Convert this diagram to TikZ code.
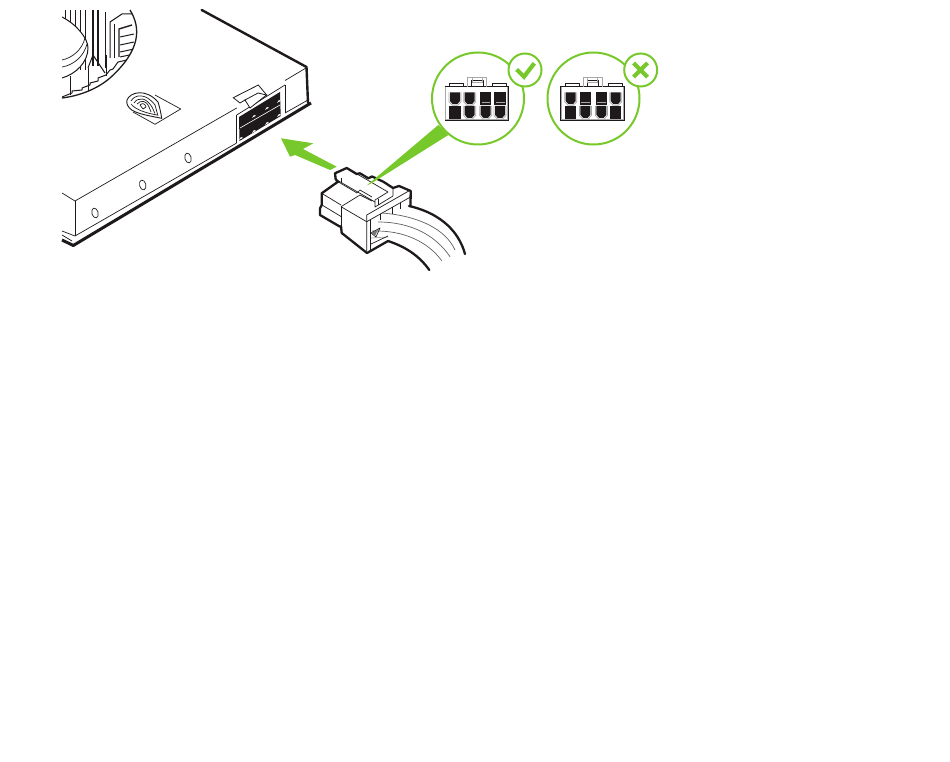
\documentclass[tikz,border=0pt]{standalone}
\usepackage{xcolor}
\usetikzlibrary{shapes.geometric}
\definecolor{nvgreen}{HTML}{77C82A}
\definecolor{pingray}{HTML}{A8A8A8}
\definecolor{ink}{HTML}{1E1A1B}
\tikzset{
  heavy/.style={draw=ink,line width=2.3pt,line join=round,line cap=round},
  medium/.style={draw=ink,line width=1pt,line join=round},
  fine/.style={draw=ink,line width=0.7pt,line join=round},
  cable/.style={draw=ink!70,line width=0.7pt},
  ring/.style={draw=nvgreen,line width=2pt,fill=white}
}
\newcommand{\roundpin}[2]{%
  \draw[pingray,line width=0.7pt] (#1-0.3,#2) -- (#1-0.3,#2+9.5) -- (#1+3,#2+13) -- (#1+8.4,#2+13) -- (#1+11.7,#2+9.5) -- (#1+11.7,#2);
  \fill[ink] (#1+0.7,#2) -- (#1+10.7,#2) -- (#1+10.7,#2+8.8) -- (#1+8,#2+11.8) -- (#1+3.4,#2+11.8) -- (#1+0.7,#2+8.8) -- cycle;}
\newcommand{\barpin}[2]{%
  \fill[ink] (#1,#2) rectangle (#1+11.4,#2+12.6);
  \draw[pingray,line width=0.7pt] (#1+1.5,#2+9.8) -- (#1+10.4,#2+9.8);}
\newcommand{\squarepin}[2]{%
  \fill[ink] (#1,#2+0.3) rectangle (#1+11.4,#2+12.8);}
% housing drawn at the left ring, shifted for the right one
\newcommand{\pinhousing}{%
  \fill[white,draw=ink,line width=0.6pt] (445,86.7) rectangle (508.3,120);
  \draw[pingray,line width=1pt] (445.6,87.3) -- (445.6,119.4) -- (507.7,119.4) -- (507.7,87.3);
  \draw[fine,line width=1pt] (449.3,86.7) -- (449.3,83.3) -- (463.3,83.3) -- (463.3,86.7);
  \draw[fine,line width=1pt] (492.3,86.7) -- (492.3,83.3) -- (506.7,83.3) -- (506.7,86.7);
  \draw[pingray,line width=0.8pt] (467.3,86.7) -- (467.3,77.5) -- (486.7,77.5) -- (486.7,86.7);
  \draw[fine] (471.5,86.7) -- (471.5,80) -- (483,80) -- (483,86.7);
  \draw[pingray,line width=0.8pt] (472,77.5) -- (472,82.5) -- (482,82.5) -- (482,77.5);
}
\begin{document}
\begin{tikzpicture}[x=1pt,y=-1pt]
  \useasboundingbox (0,0) rectangle (950,762);
  % fan opening
  \begin{scope}
    \clip (62,10) -- (130,10) .. controls (141,28) and (141,50) .. (110,78) .. controls (96,90) and (78,96) .. (62,98) -- cycle;
    \foreach \finx in {65,70,75,80,85} \draw[medium] (\finx,10) -- (\finx,70);
    \foreach \finx in {93,98} \draw[medium,line width=1.4pt] (\finx,10) -- (\finx,66);
    \draw[medium] (105,12) -- (105,68);
    \draw[medium] (110,22) -- (110,58) (110,22) -- (122,14) -- (132,14);
    \draw[medium] (114,24) -- (114,58);
    \draw[medium,line width=1.4pt] (119,57) -- (119,29) -- (132,25);
    \foreach \finy in {37,45,52,57} \draw[medium] (120,\finy) -- (134,\finy-3);
    % lower blades
    \draw[medium] (88,68) -- (93,55) -- (105,73);
    \draw[medium] (88,68) -- (88,92) (70,76) -- (70,95) (106,55) -- (106,76);
    \draw[medium] (62,97) -- (72,93) -- (72,91) -- (82,90) -- (82,88) -- (90,85) -- (90,83) -- (98,81) -- (98,78) -- (106,75) -- (110,70) -- (113,69) -- (118,62) -- (127,60);
    % hub
    \fill[white] (62,17) .. controls (76,24) and (88,38) .. (88,48) .. controls (88,62) and (76,74) .. (62,78) -- cycle;
    \draw[medium] (62,17) .. controls (76,24) and (88,38) .. (88,48) .. controls (88,62) and (76,74) .. (62,78);
    \draw[fine] (62,60) .. controls (72,58) and (82,50) .. (85,38);
    \draw[fine] (62,67) .. controls (74,65) and (84,56) .. (87,44);
  \end{scope}
  \draw[medium,line width=1.3pt] (130,10) .. controls (141,28) and (141,50) .. (110,78) .. controls (96,90) and (78,96) .. (62,98);
  % logo
  \draw[fine] (155,95) -- (180.7,109) -- (155,124.3) -- (133,112);
  \fill[white,draw=ink,line width=0.9pt] (127,100) .. controls (130,92) and (146,88) .. (158,102) .. controls (160,108) and (161,114) .. (161.7,118.3) .. controls (150,116) and (138,114) .. (131.7,110) .. controls (128,107) and (126,104) .. (127,100) -- cycle;
  \draw[fine] (131,101) .. controls (135,94) and (146,93) .. (155,105) -- (158,116);
  \draw[fine] (134,103) .. controls (138,97) and (146,97) .. (152,107) -- (155,113.5);
  \draw[fine] (137,104) .. controls (141,100) and (146,100) .. (149,107) -- (151,112);
  \draw[fine] (131,104) .. controls (136,110) and (146,113) .. (157,115);
  \draw[fine] (140,105) .. controls (142,103) and (145,103) .. (146,107) -- (143,109) -- cycle;
  % card body
  \draw[heavy,line width=2.4pt] (201.7,10) -- (306.5,67) -- (308,103);
  \draw[fine] (62,193) -- (75,201) -- (236.7,108);
  \draw[fine] (285,80.5) -- (306,68);
  \draw[fine] (75,201) -- (75,236);
  \draw[fine] (62,231) -- (75,236) -- (236.7,143);
  \draw[fine] (285,113) -- (308,100);
  \draw[fine] (62,235) -- (72,241);
  \draw[heavy,line width=3pt,line cap=butt] (62,240) -- (73.3,245.5) -- (311,103);
  % screw holes
  \foreach \holex/\holey in {95/213,142.7/185,188/158}
    \draw[fine] (\holex,\holey) ellipse [x radius=3.2,y radius=5,rotate=15];
  % power socket on the card
  \fill[white] (236.7,115) -- (236.7,144) -- (285,116) -- (285,85) -- cycle;
  \draw[fine] (285,85) -- (285,113);
  \draw[fine] (236.7,115) -- (236.7,143);
  \draw[fine] (236.7,115) -- (285,85);
  \fill[ink] (239,117) -- (280,92) -- (280.7,116) -- (239.5,141) -- cycle;
  \draw[white,line width=0.6pt] (240,128) -- (280,105);
  \foreach \pinx/\piny in {241/139,254/132,267/124,279/116,254/117,267/109,279/102}
    \fill[white] (\pinx-2,\piny+0.8) -- (\pinx,\piny-2) -- (\pinx+2,\piny-1.2) -- cycle;
  \fill[white,draw=ink,line width=0.8pt] (233.3,97.7) -- (258.3,85) -- (266.7,95) -- (250,105) -- (245,100) -- (240,103) -- cycle;
  \fill[white,draw=ink,line width=0.8pt] (245,100) -- (258,93) -- (266.5,95) -- (250,108) -- cycle;
  % wire plug
  \fill[white] (335,173.3) -- (346.7,168) -- (356.7,174) -- (360,173.3) -- (368.3,178.3) -- (383.3,181.7) -- (393,188) -- (410.7,191) -- (411,204) -- (394,214) -- (388,241) -- (368,253) -- (341.7,233) -- (340,226.7) -- (320,215) -- (320,208.3) -- (321.7,205) -- (321.7,193.3) -- (338,181.7) -- (335.7,179.3) -- cycle;
  % cables
  \draw[heavy] (409,206) .. controls (436,212) and (458,228) .. (465,254);
  \draw[cable] (382,213) .. controls (420,216) and (446,230) .. (455,250);
  \draw[cable] (378,222) .. controls (412,222) and (436,236) .. (450,256.7);
  \draw[cable] (372,231) .. controls (404,230) and (428,242) .. (441.7,260.7);
  \draw[cable,pingray] (371,238) -- (388,237);
  \draw[heavy] (388,241) .. controls (403,246) and (418,254) .. (429.3,270);
  % plug outline
  \draw[heavy] (335.7,179.3) -- (335,173.3) -- (346.7,168) -- (356.7,174) -- (360,173.3) -- (368.3,178.3) -- (372,176.5) -- (383.3,181.7) -- (393,188) -- (399,186) -- (410.7,191) -- (410.5,206);
  \draw[heavy] (335.7,179.3) -- (338,181.7) -- (321.7,193.3) -- (321.7,205) -- (320,208.3) -- (320,215) -- (340,226.7);
  \draw[heavy] (341,226) -- (341.7,233) -- (367,253) -- (388,241);
  % plug detail lines
  \draw[fine] (335.7,179.3) -- (375,202);
  \draw[fine] (346.7,168) -- (388,192) -- (375,200) -- (375,207) -- (393,196) -- (393,188);
  \draw[fine] (341,183) -- (341,178) (378,199) -- (378,205);
  \draw[fine] (321.7,193.3) -- (341,205) (322,205) -- (341,216.5) (338,181.7) -- (357,193);
  \draw[fine] (341,206.7) -- (366.7,221.7) -- (366.7,251);
  \draw[fine] (341,206.7) -- (341,226);
  \draw[fine] (341,206.7) -- (360,195) -- (372,201);
  \draw[fine] (357,193) -- (360,190) -- (372,197);
  % open end of the plug
  \draw[fine] (366.7,221.7) -- (366.7,215) -- (410.5,190);
  \draw[fine] (366.7,221.7) -- (410.5,197);
  \draw[fine] (370.5,219.5) -- (370.5,251);
  \draw[fine] (380,214) -- (380,220) (392,207) -- (392,214) (400,203) -- (400,209);
  \draw[fine] (371,233) -- (380,228) -- (376,237) -- cycle;
  \fill[ink!60] (371,233) -- (378,229.5) -- (375,236) -- cycle;
  \draw[fine] (371,244) -- (388,236);
  % insert arrow and callout wedge
  \fill[nvgreen] (281,138.3) -- (313.3,143.3) -- (303,149) -- (336.7,166.7) -- (330,170) -- (295,155) -- (290,156.7) -- cycle;
  \fill[nvgreen] (438.3,125) -- (448.3,135) -- (372,183) -- (366.7,185.5) -- cycle;
  % left ring
  \draw[ring] (478,98.5) circle [radius=46];
  \pinhousing
  \foreach \pinx/\piny in {449.3/92.3,464/92.3,464/106,480/106,494.3/106} {\roundpin{\pinx}{\piny}}
  \foreach \pinx/\piny in {480/92.3,494.3/92.3} {\barpin{\pinx}{\piny}}
  \squarepin{449.3}{106}
  \draw[ring] (525,70) circle [radius=16.5];
  \draw[nvgreen,line width=4.2pt] (516.7,69.5) -- (524,76.7) -- (534.3,63.3);
  % right ring
  \draw[ring] (593.5,98.5) circle [radius=46];
  \begin{scope}[xshift=115.7pt]
    \pinhousing
    \foreach \pinx/\piny in {449.3/92.3,494.3/92.3,464/106,480/106} {\roundpin{\pinx}{\piny}}
    \foreach \pinx/\piny in {464/92.3,480/92.3} {\barpin{\pinx}{\piny}}
    \foreach \pinx/\piny in {449.3/106,494.3/106} {\squarepin{\pinx}{\piny}}
  \end{scope}
  \draw[ring] (640.7,70) circle [radius=16.5];
  \draw[nvgreen,line width=4pt] (633.5,63) -- (647.5,77) (647.5,63) -- (633.5,77);
\end{tikzpicture}
\end{document}
